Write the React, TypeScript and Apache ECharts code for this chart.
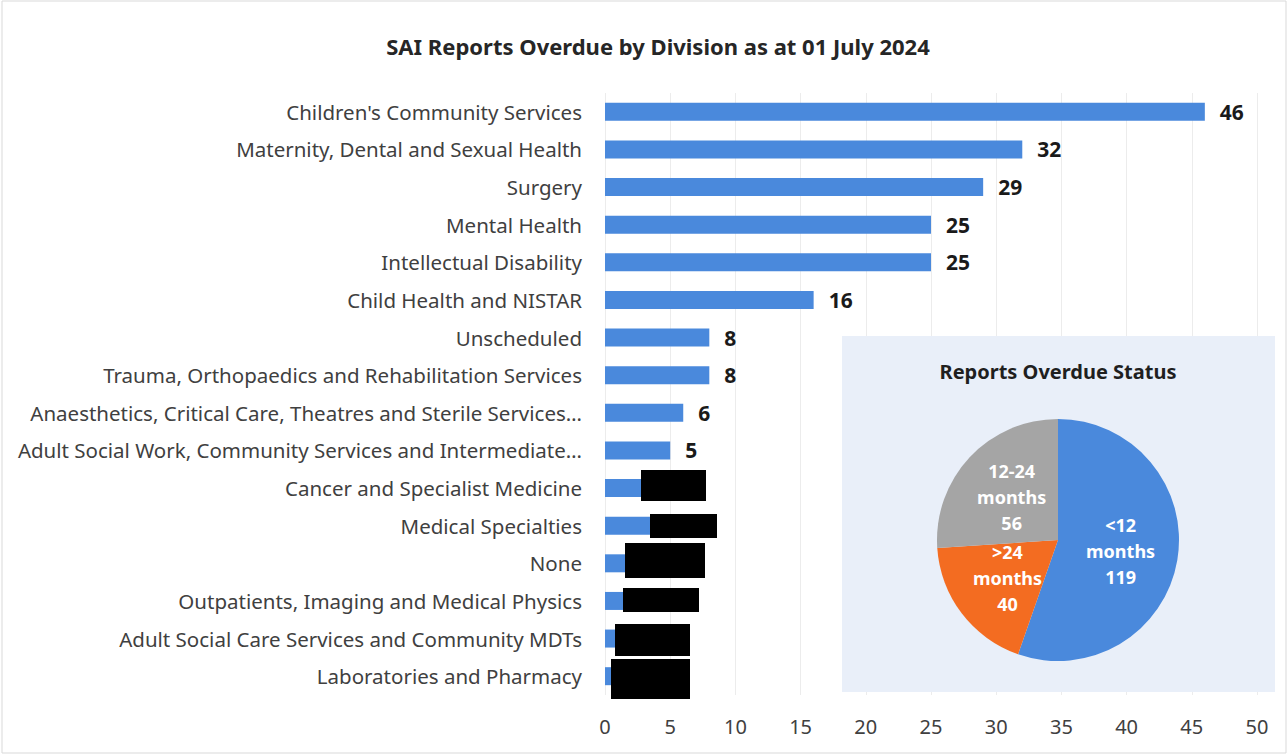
import React, { useEffect, useRef } from "react";
import * as echarts from "echarts";

const divisions = [
  "Children's Community Services",
  "Maternity, Dental and Sexual Health",
  "Surgery",
  "Mental Health",
  "Intellectual Disability",
  "Child Health and NISTAR",
  "Unscheduled",
  "Trauma, Orthopaedics and Rehabilitation Services",
  "Anaesthetics, Critical Care, Theatres and Sterile Services…",
  "Adult Social Work, Community Services and Intermediate…",
  "Cancer and Specialist Medicine",
  "Medical Specialties",
  "None",
  "Outpatients, Imaging and Medical Physics",
  "Adult Social Care Services and Community MDTs",
  "Laboratories and Pharmacy",
];
const overdue = [46, 32, 29, 25, 25, 16, 8, 8, 6, 5, 4, 4, 2, 2, 2, 1];

const statusNames = ["<12\nmonths", ">24\nmonths", "12-24\nmonths"];
const statusValues = [119, 40, 56];
const statusColors = ["#4a89dc", "#f36c21", "#a5a5a5"];

const FONT = "'Noto Sans', sans-serif";

export default function App() {
  const ref = useRef<HTMLDivElement>(null);
  useEffect(() => {
    if (!ref.current) return;
    const chart = echarts.init(ref.current, undefined, { renderer: "svg" });
    const redactions = [
      [641, 470, 65, 31],
      [650, 514, 67, 24],
      [625, 543, 80, 35],
      [623, 588, 76, 24],
      [615, 624, 75, 32],
      [611, 659, 79, 40],
    ];
    chart.setOption({
      animation: false,
      backgroundColor: "#ffffff",
      textStyle: { fontFamily: FONT },
      title: {
        text: "SAI Reports Overdue by Division as at 01 July 2024",
        left: 653,
        top: 30,
        textAlign: "center",
        textStyle: { fontSize: 22, fontWeight: "bold", color: "#262626", fontFamily: FONT },
      },
      grid: { left: 605, right: 31, top: 93, bottom: 59, containLabel: false },
      xAxis: {
        type: "value",
        min: 0,
        max: 50,
        interval: 5,
        axisLine: { show: false },
        axisTick: { show: false },
        axisLabel: { fontSize: 20, color: "#404040", margin: 21, fontFamily: FONT },
        splitLine: { show: true, lineStyle: { color: "#ececec", width: 1 } },
      },
      yAxis: {
        type: "category",
        data: divisions,
        inverse: true,
        axisLine: { show: false },
        axisTick: { show: false },
        axisLabel: { fontSize: 20.5, color: "#404040", margin: 23, fontFamily: FONT },
      },
      series: [
        {
          type: "bar",
          data: overdue,
          barWidth: 18,
          itemStyle: { color: "#4a89dc" },
          label: {
            show: true,
            position: "right",
            distance: 15,
            fontSize: 21,
            fontWeight: "bold",
            color: "#1a1a1a",
            fontFamily: FONT,
          },
          z: 2,
        },
        {
          type: "pie",
          center: [1058, 540],
          radius: [0, 121],
          startAngle: 90,
          clockwise: true,
          z: 5,
          data: statusNames.map((n, i) => ({
            name: n,
            value: statusValues[i],
            itemStyle: { color: statusColors[i] },
          })),
          label: {
            show: true,
            position: "inside",
            formatter: "{b}\n{c}",
            color: "#ffffff",
            fontSize: 18,
            fontWeight: "bold",
            lineHeight: 26,
            fontFamily: FONT,
          },
          labelLine: { show: false },
          itemStyle: { borderWidth: 0 },
          emphasis: { disabled: true },
        },
      ],
      graphic: [
        {
          type: "rect",
          z: 3,
          shape: { x: 842, y: 336, width: 433, height: 356 },
          style: { fill: "#e9eff9", stroke: "none" },
        },
        {
          type: "text",
          z: 6,
          x: 1058,
          y: 371,
          style: {
            text: "Reports Overdue Status",
            fill: "#1f1f1f",
            font: "bold 20px 'Noto Sans', sans-serif",
            textAlign: "center",
            textVerticalAlign: "middle",
          },
        },
        {
          type: "rect",
          z: 6,
          shape: { x: 2, y: 1, width: 1284, height: 752 },
          style: { fill: "none", stroke: "#d9d9d9", lineWidth: 1 },
        },
        ...redactions.map((r) => ({
          type: "rect",
          z: 10,
          shape: { x: r[0], y: r[1], width: r[2], height: r[3] },
          style: { fill: "#000000" },
        })),
      ],
    });
    return () => chart.dispose();
  }, []);
  return (
    <div
      ref={ref}
      style={{ position: "fixed", left: 0, top: 0, width: 1288, height: 754 }}
    />
  );
}
